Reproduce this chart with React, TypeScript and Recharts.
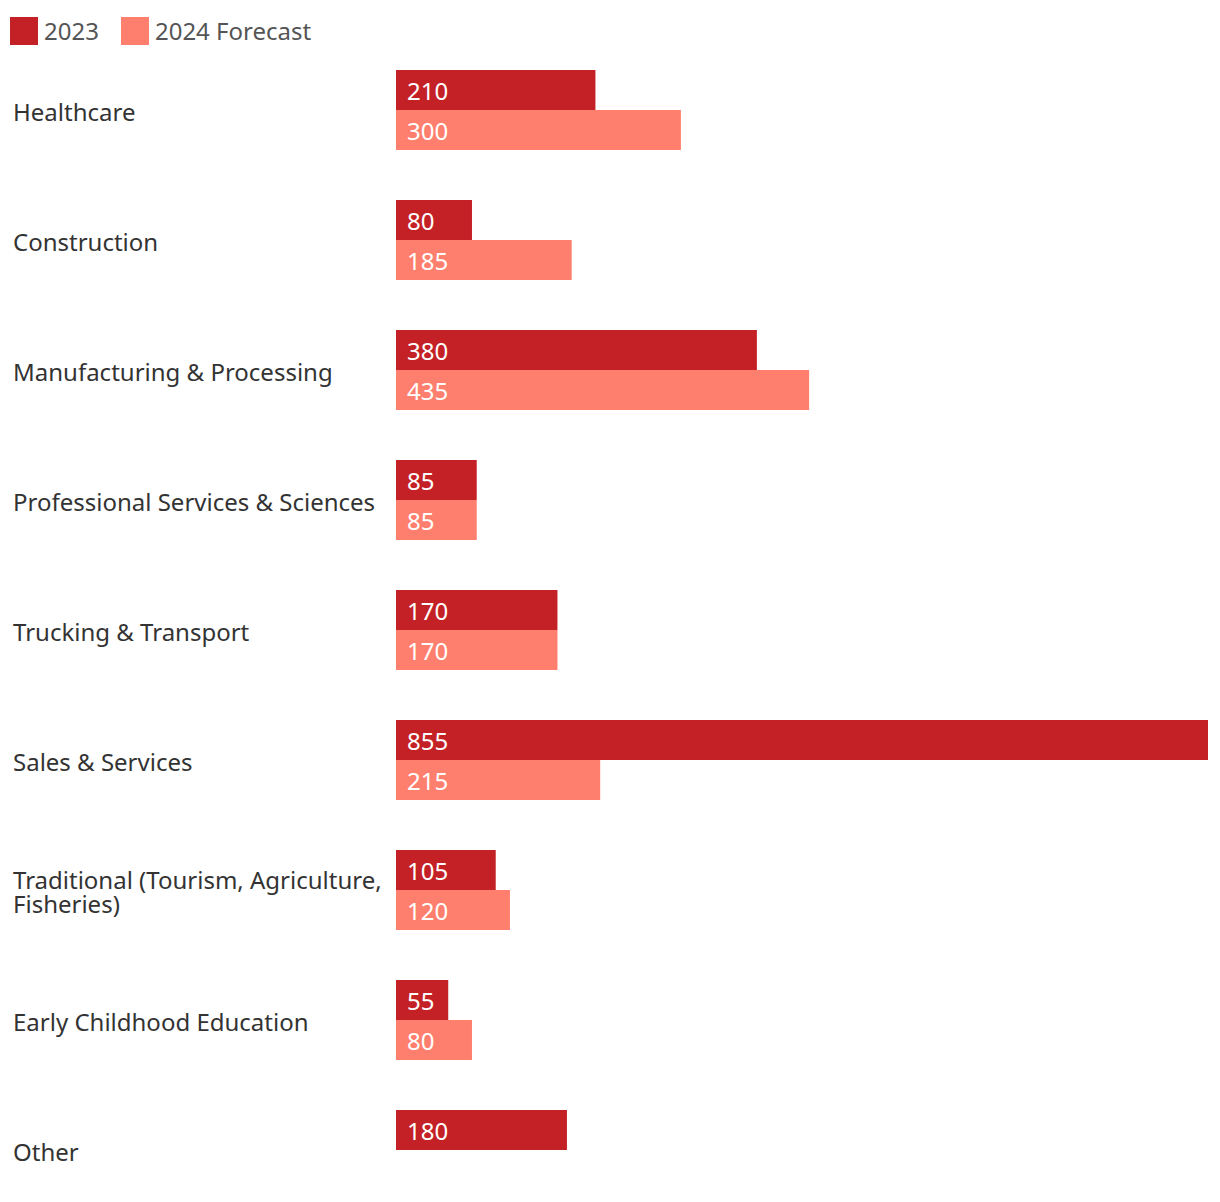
import React from 'react';
import { BarChart, Bar, XAxis, YAxis, Legend, LabelList } from 'recharts';

const categories = [
  'Healthcare',
  'Construction',
  'Manufacturing & Processing',
  'Professional Services & Sciences',
  'Trucking & Transport',
  'Sales & Services',
  'Traditional (Tourism, Agriculture, Fisheries)',
  'Early Childhood Education',
  'Other',
];
const values2023 = [210, 80, 380, 85, 170, 855, 105, 55, 180];
const values2024 = [300, 185, 435, 85, 170, 215, 120, 80, null];
const seriesNames = ['2023', '2024 Forecast'];

const COLOR_2023 = '#C42127';
const COLOR_2024 = '#FF7F6E';
const FONT = '"Noto Sans", "Open Sans", sans-serif';

const data = categories.map((c, i) => ({
  category: c,
  v2023: values2023[i],
  v2024: values2024[i],
}));

const wrapLabel = (s: string): string[] => {
  if (s.startsWith('Traditional')) return ['Traditional (Tourism, Agriculture,', 'Fisheries)'];
  return [s];
};

const CategoryTick = (props: any) => {
  const { y, payload } = props;
  const lines = wrapLabel(String(payload.value));
  const lh = 24;
  const startY = y + 1 - ((lines.length - 1) * lh) / 2;
  return (
    <text x={5} y={startY} textAnchor="start" fill="#333333" fontSize={24} fontFamily={FONT} dominantBaseline="central">
      {lines.map((l, i) => (
        <tspan key={i} x={5} y={startY + i * lh}>
          {l}
        </tspan>
      ))}
    </text>
  );
};

const LegendContent = () => (
  <div style={{ display: 'flex', alignItems: 'center', fontFamily: FONT, fontSize: 24, color: '#555555', height: 30 }}>
    {seriesNames.map((n, i) => (
      <div key={n} style={{ display: 'flex', alignItems: 'center', marginRight: 22 }}>
        <div style={{ width: 28, height: 28, background: i === 0 ? COLOR_2023 : COLOR_2024, marginRight: 6 }} />
        <span style={{ position: 'relative', top: -1 }}>{n}</span>
      </div>
    ))}
  </div>
);

const fmt = (v: any) => (v === null || v === undefined ? '' : v);

export default function App() {
  return (
    <div style={{ width: 1212, height: 1210, position: 'relative' }}>
      <BarChart
        width={1212}
        height={1210}
        data={data}
        layout="vertical"
        margin={{ top: 7, right: 12, bottom: 3, left: 0 }}
        barGap={0}
      >
        <Legend
          verticalAlign="top"
          align="left"
          height={30}
          content={<LegendContent />}
          wrapperStyle={{ top: 8, left: 2 }}
        />
        <XAxis type="number" domain={[0, 855]} hide />
        <YAxis
          type="category"
          dataKey="category"
          width={388}
          axisLine={false}
          tickLine={false}
          tick={<CategoryTick />}
          interval={0}
        />
        <Bar dataKey="v2023" name={seriesNames[0]} fill={COLOR_2023} barSize={40} isAnimationActive={false}>
          <LabelList dataKey="v2023" position="insideLeft" offset={11} dy={1} fill="#ffffff" fontSize={24} fontFamily={FONT} formatter={fmt} />
        </Bar>
        <Bar dataKey="v2024" name={seriesNames[1]} fill={COLOR_2024} barSize={40} isAnimationActive={false}>
          <LabelList dataKey="v2024" position="insideLeft" offset={11} dy={1} fill="#ffffff" fontSize={24} fontFamily={FONT} formatter={fmt} />
        </Bar>
      </BarChart>
    </div>
  );
}
